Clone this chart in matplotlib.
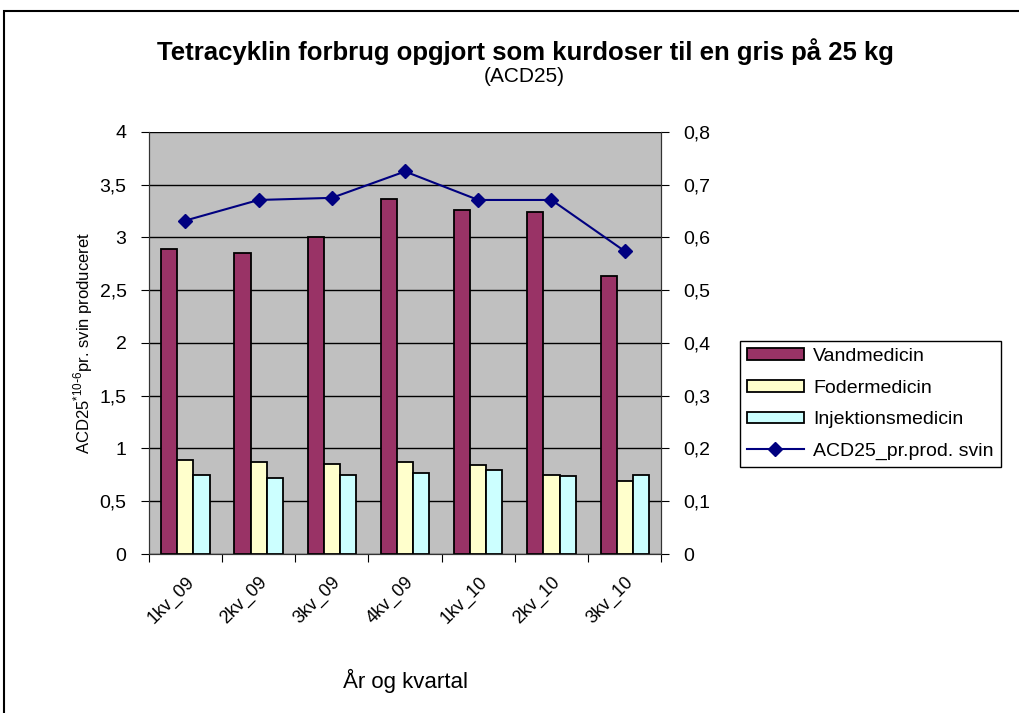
import numpy as np
import matplotlib.pyplot as plt
from matplotlib.patches import Rectangle

plt.rcParams['font.family'] = ['Liberation Sans', 'DejaVu Sans']

# data
kvartaler = ["1kv_09", "2kv_09", "3kv_09", "4kv_09", "1kv_10", "2kv_10", "3kv_10"]
vandmedicin = [2.89, 2.85, 3.00, 3.36, 3.26, 3.24, 2.63]
fodermedicin = [0.89, 0.87, 0.85, 0.87, 0.84, 0.75, 0.69]
injektionsmedicin = [0.75, 0.72, 0.75, 0.77, 0.80, 0.74, 0.75]
acd25_pr_svin = [0.632, 0.671, 0.675, 0.725, 0.671, 0.671, 0.574]

fig = plt.figure(figsize=(10.19, 7.13), dpi=100)
ax = fig.add_axes([0.146, 0.223, 0.503, 0.592])
ax2 = ax.twinx()

x = np.arange(len(kvartaler))
w = 0.22
ax.set_facecolor("#C0C0C0")
b1 = ax.bar(x - w, vandmedicin, w, color="#993366", edgecolor="black", lw=1.3, zorder=3)
b2 = ax.bar(x, fodermedicin, w, color="#FFFFCC", edgecolor="black", lw=1.3, zorder=3)
b3 = ax.bar(x + w, injektionsmedicin, w, color="#CCFFFF", edgecolor="black", lw=1.3, zorder=3)
l1, = ax2.plot(x, acd25_pr_svin, color="#000080", marker="D", ms=7, lw=1.5, zorder=4)

ax.set_xlim(-0.5, len(kvartaler) - 0.5)
ax.set_ylim(0, 4)
ax2.set_ylim(0, 0.8)
ax.set_yticks(np.arange(0, 4.01, 0.5))
ax.set_yticklabels([f"{v:g}".replace(".", ",") for v in np.arange(0, 4.01, 0.5)])
ax2.set_yticks(np.arange(0, 0.81, 0.1))
ax2.set_yticklabels([f"{v:.1f}".replace(".", ",") if v > 0 else "0" for v in np.arange(0, 0.81, 0.1)])
ax.yaxis.grid(True, color="black", lw=1, zorder=1)
ax.set_axisbelow(True)

# x-ticks på kategorigrænser, labels i midten
ax.set_xticks(np.arange(-0.5, len(kvartaler)), minor=False)
ax.set_xticklabels([])
ax.set_xticks(x, minor=True)
ax.set_xticklabels(kvartaler, minor=True, rotation=45, ha="right",
                   rotation_mode="anchor", fontsize=13)
ax.tick_params(axis="x", which="minor", length=0, pad=14)
ax.tick_params(axis="x", which="major", length=6, color="black")
ax.tick_params(axis="y", length=6, labelsize=14, pad=10)
ax2.tick_params(axis="y", length=6, labelsize=14, pad=10)

for a in (ax, ax2):
    a.spines["top"].set_visible(False)
    for s in ("left", "right", "bottom"):
        a.spines[s].set_color("#333333")

ax.set_ylabel(r"ACD25$^{\mathregular{*10\text{-}6}}$pr. svin produceret", fontsize=12)
ax.yaxis.set_label_coords(-0.105, 0.5)
ax.set_xlabel("År og kvartal", fontsize=16, labelpad=30)

fig.text(0.516, 0.928, "Tetracyklin forbrug opgjort som kurdoser til en gris på 25 kg",
         ha="center", va="center", fontsize=18.5, fontweight="bold")
fig.text(0.514, 0.893, "(ACD25)", ha="center", va="center", fontsize=15)

leg = fig.legend([b1, b2, b3, l1],
                 ["Vandmedicin", "Fodermedicin", "Injektionsmedicin", "ACD25_pr.prod. svin"],
                 loc="upper left", bbox_to_anchor=(0.717, 0.535), fontsize=14,
                 frameon=True, fancybox=False, edgecolor="black", framealpha=1,
                 handlelength=2.9, handleheight=0.55, handletextpad=0.5,
                 borderpad=0.35, labelspacing=0.75)
leg.get_frame().set_linewidth(1)

# ramme om figuren
fig.patches.append(Rectangle((0.004, -0.01), 1.1, 1 - 11 / 713 + 0.01, transform=fig.transFigure,
                             fill=False, edgecolor="black", lw=1.5))

fig.savefig("out.png", dpi=100)
